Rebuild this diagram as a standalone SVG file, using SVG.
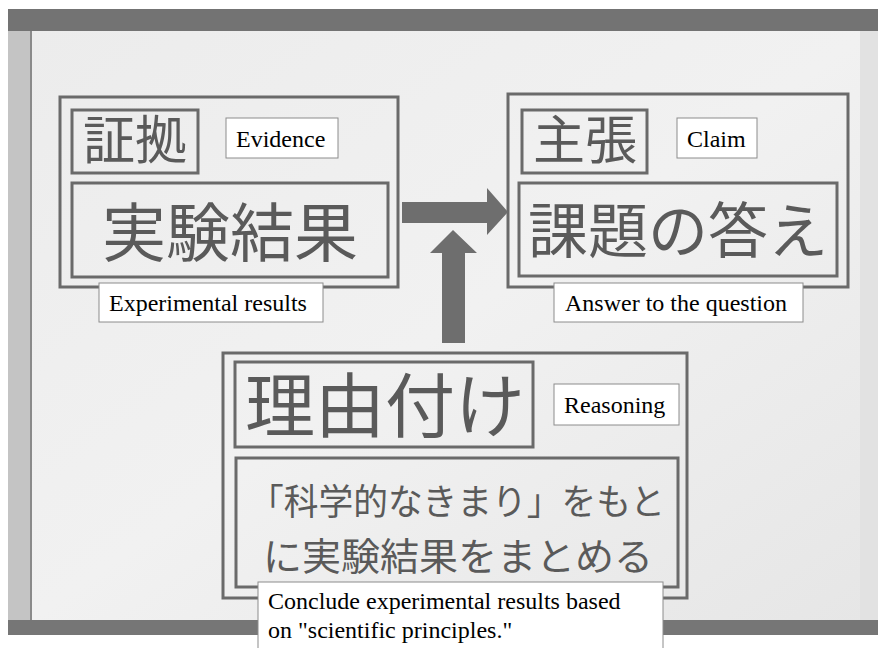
<svg xmlns="http://www.w3.org/2000/svg" width="878" height="648" viewBox="0 0 878 648">
  <style>
    .frame { fill: none; stroke: #6a6a6a; stroke-width: 3; }
    .jp { font-family: "Noto Sans CJK JP", "Noto Sans", sans-serif; fill: #5a5a5a; text-anchor: middle; }
    .lbl { fill: #ffffff; stroke: #8c8c8c; stroke-width: 1; }
    .en { font-family: "Liberation Serif", "Times New Roman", serif; font-size: 24px; fill: #000000; }
    .arrow { fill: #6e6e6e; }
  </style>
  <defs>
    <linearGradient id="poster" x1="0" y1="0" x2="1" y2="1">
      <stop offset="0" stop-color="#ececec"/>
      <stop offset="0.5" stop-color="#f1f1f1"/>
      <stop offset="1" stop-color="#e6e6e6"/>
    </linearGradient>
  </defs>
  <rect x="0" y="0" width="878" height="648" fill="#ffffff"/>
  <!-- photo background -->
  <rect x="8" y="9" width="870" height="626" fill="#737373"/>
  <rect x="8" y="31" width="22" height="604" fill="#c4c4c4"/>
  <rect x="30" y="31" width="840" height="589" fill="url(#poster)"/>
  <rect x="30" y="31" width="2" height="589" fill="#8a8a8a"/>
  <rect x="860" y="31" width="18" height="589" fill="#e2e2e2"/>
  <rect x="8" y="620" width="870" height="15" fill="#767676"/>

  <g id="evidence">
    <rect class="frame" x="60" y="97" width="338" height="190"/>
    <rect class="frame" x="72" y="110" width="126" height="63"/>
    <text class="jp" x="135" y="159" font-size="52">証拠</text>
    <rect class="frame" x="72" y="183" width="316" height="94"/>
    <text class="jp" x="230" y="256" font-size="64">実験結果</text>
    <rect class="lbl" x="226" y="118" width="112" height="40"/>
    <text class="en" x="236" y="147">Evidence</text>
    <rect class="lbl" x="99" y="283" width="224" height="39"/>
    <text class="en" x="109" y="311">Experimental results</text>
  </g>

  <g id="claim">
    <rect class="frame" x="508" y="94" width="340" height="193"/>
    <rect class="frame" x="522" y="110" width="125" height="63"/>
    <text class="jp" x="585" y="159" font-size="52">主張</text>
    <rect class="frame" x="519" y="183" width="318" height="93"/>
    <text class="jp" x="678" y="253" font-size="60">課題の答え</text>
    <rect class="lbl" x="677" y="118" width="80" height="40"/>
    <text class="en" x="687" y="147">Claim</text>
    <rect class="lbl" x="554" y="283" width="249" height="39"/>
    <text class="en" x="565" y="311">Answer to the question</text>
  </g>

  <g id="reasoning">
    <rect class="frame" x="223" y="353" width="464" height="245"/>
    <rect class="frame" x="235" y="362" width="298" height="85"/>
    <text class="jp" x="385" y="432" font-size="70">理由付け</text>
    <rect class="frame" x="236" y="458" width="442" height="129"/>
    <text class="jp" x="457" y="515" font-size="36" textLength="416" lengthAdjust="spacingAndGlyphs">「科学的なきまり」をもと</text>
    <text class="jp" x="458" y="570" font-size="38" textLength="390" lengthAdjust="spacingAndGlyphs">に実験結果をまとめる</text>
    <rect class="lbl" x="554" y="384" width="125" height="41"/>
    <text class="en" x="564" y="413">Reasoning</text>
    <rect class="lbl" x="258" y="582" width="405" height="70"/>
    <text class="en" x="268" y="609">Conclude experimental results based</text>
    <text class="en" x="268" y="638">on "scientific principles."</text>
  </g>

  <g id="connectors">
    <polygon class="arrow" points="402,202 487,202 487,188 508,212 487,235 487,223 402,223"/>
    <polygon class="arrow" points="442,343 442,253 430,253 453,230 477,253 465,253 465,343"/>
  </g>
</svg>
